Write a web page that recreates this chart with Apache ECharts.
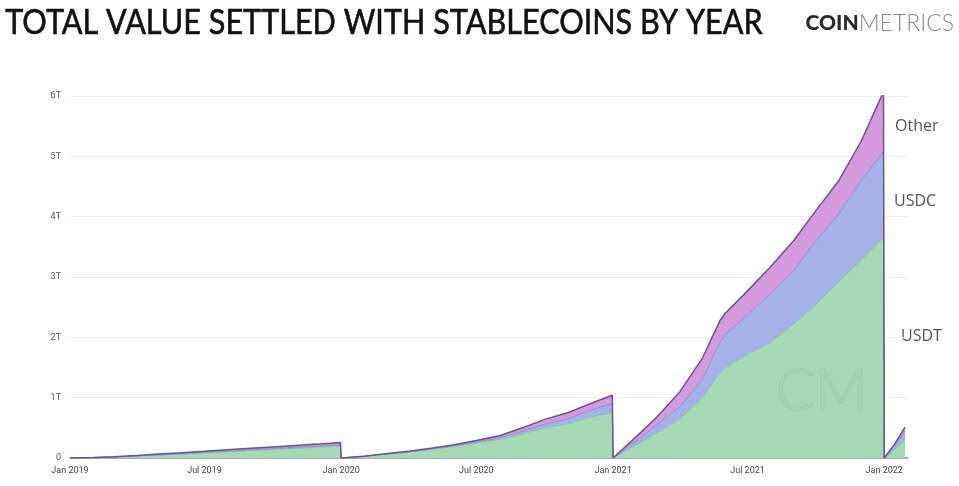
<!DOCTYPE html>
<html>
<head>
<meta charset="utf-8">
<script src="https://cdn.jsdelivr.net/npm/echarts@6/dist/echarts.min.js"></script>
<style>
  html, body { margin: 0; padding: 0; background: #fff; }
  #chart { width: 959px; height: 486px; }
</style>
</head>
<body>
<div id="chart"></div>
<script>
'use strict';
// cumulative value settled per calendar year (resets every Jan 1), in USD
const dates = [
  '2019-01-01', '2019-02-01', '2019-03-01', '2019-04-01', '2019-05-01', '2019-06-01', '2019-07-01',
  '2019-08-01', '2019-09-01', '2019-10-01', '2019-11-01', '2019-12-01', '2019-12-31',
  '2020-01-01', '2020-02-01', '2020-03-01', '2020-04-01', '2020-05-01', '2020-06-01', '2020-07-01',
  '2020-08-01', '2020-09-01', '2020-10-01', '2020-11-01', '2020-12-01', '2020-12-31',
  '2021-01-01', '2021-02-01', '2021-03-01', '2021-04-01', '2021-05-01', '2021-05-25', '2021-06-01', '2021-07-01',
  '2021-08-01', '2021-09-01', '2021-10-01', '2021-11-01', '2021-12-01', '2021-12-31',
  '2022-01-01', '2022-01-15', '2022-01-29',
];
// values in trillions
const usdt = [
  0, .006, .015, .032, .05, .068, .085, .104, .124, .142, .161, .18, .2,
  0, .028, .064, .098, .142, .192, .25, .31, .4, .5, .57, .68, .75,
  0, .22, .42, .65, 1.0, 1.42, 1.5, 1.72, 1.92, 2.22, 2.55, 2.93, 3.28, 3.65,
  0, .14, .3,
];
const usdc = [
  0, 0, .001, .003, .004, .006, .008, .01, .012, .014, .016, .017, .02,
  0, .001, .002, .004, .007, .011, .016, .024, .04, .06, .08, .11, .15,
  0, .06, .13, .2, .3, .5, .55, .65, .8, .88, 1.05, 1.12, 1.32, 1.42,
  0, .06, .14,
];
const other = [
  0, .002, .004, .007, .011, .014, .017, .021, .024, .027, .03, .033, .035,
  0, .001, .004, .008, .011, .017, .024, .036, .06, .08, .1, .11, .14,
  0, .07, .13, .25, .35, .36, .35, .4, .45, .5, .5, .55, .65, 1.0,
  0, .03, .07,
];
const MON = ['Jan', 'Feb', 'Mar', 'Apr', 'May', 'Jun', 'Jul', 'Aug', 'Sep', 'Oct', 'Nov', 'Dec'];

const T = 1e12;
const DAY = 24 * 3600 * 1000;
const ts = (s) => new Date(s + 'T00:00:00').getTime();
const pairs = (arr) => dates.map((d, i) => [ts(d), arr[i] * T]);

const chart = echarts.init(document.getElementById('chart'), null, { renderer: 'canvas' });

const mkSeries = (name, arr, fill, line, lw) => ({
  name, type: 'line', stack: 'total', data: pairs(arr),
  symbol: 'none', smooth: false,
  lineStyle: { color: line, width: lw },
  areaStyle: { color: fill, opacity: 1 },
  emphasis: { disabled: true },
});

chart.setOption({
  animation: false,
  backgroundColor: '#fff',
  grid: { left: 70, right: 51, top: 96, bottom: 28 },
  xAxis: {
    type: 'time',
    min: ts('2019-01-01'), max: ts('2022-02-02'),
    minInterval: 180 * DAY, maxInterval: 184 * DAY,
    axisLine: { show: true, lineStyle: { color: '#8f8fa8', width: 1.5 } },
    axisTick: { show: false },
    splitLine: { show: false },
    axisLabel: {
      formatter: (v) => { const d = new Date(v); return MON[d.getMonth()] + ' ' + d.getFullYear(); },
      color: '#444', fontSize: 9, fontFamily: 'Roboto', margin: 8,
    },
  },
  yAxis: {
    type: 'value', min: 0, max: 6 * T, interval: T,
    axisLine: { show: false }, axisTick: { show: false },
    splitLine: { lineStyle: { color: '#f0f0f0', width: 1 } },
    axisLabel: {
      formatter: (v) => (v === 0 ? '0' : Math.round(v / T) + 'T'),
      color: '#555', fontSize: 9, fontFamily: 'Roboto', margin: 9,
    },
  },
  series: [
    mkSeries('USDT', usdt, '#a5dab4', '#8fb8b8', 1),
    mkSeries('USDC', usdc, '#a3b3e9', '#8b8fd0', 1),
    mkSeries('Other', other, '#d39ade', '#6d5190', 1.5),
  ],
  graphic: [
    {
      type: 'text', left: 5, top: 6, scaleX: 0.9,
      style: { text: 'TOTAL VALUE SETTLED WITH STABLECOINS BY YEAR', fill: '#111', font: '400 34px Lato', stroke: '#111', lineWidth: 0.6 },
    },
    {
      type: 'text', right: 5, top: 12,
      style: {
        text: '{b|COIN}{l|METRICS}',
        rich: {
          b: { fontFamily: 'Lato', fontWeight: 900, fontSize: 21, fill: '#2b2b2b', color: '#2b2b2b' },
          l: { fontFamily: 'Lato', fontWeight: 300, fontSize: 23, fill: '#8a8a8a', color: '#8a8a8a' },
        },
      },
    },
    { type: 'text', left: 895, top: 118, style: { text: 'Other', fill: '#555', font: '16px "Open Sans"' } },
    { type: 'text', left: 894, top: 193, style: { text: 'USDC', fill: '#555', font: '16px "Open Sans"' } },
    { type: 'text', left: 901, top: 328, style: { text: 'USDT', fill: '#555', font: '16px "Open Sans"' } },
    {
      type: 'text', left: 775, top: 362, z: 100,
      style: { text: 'CM', fill: 'rgba(0,0,0,0)', stroke: 'rgba(60,90,70,0.07)', lineWidth: 1.5, font: '300 58px Lato' },
    },
  ],
});
</script>
</body>
</html>
